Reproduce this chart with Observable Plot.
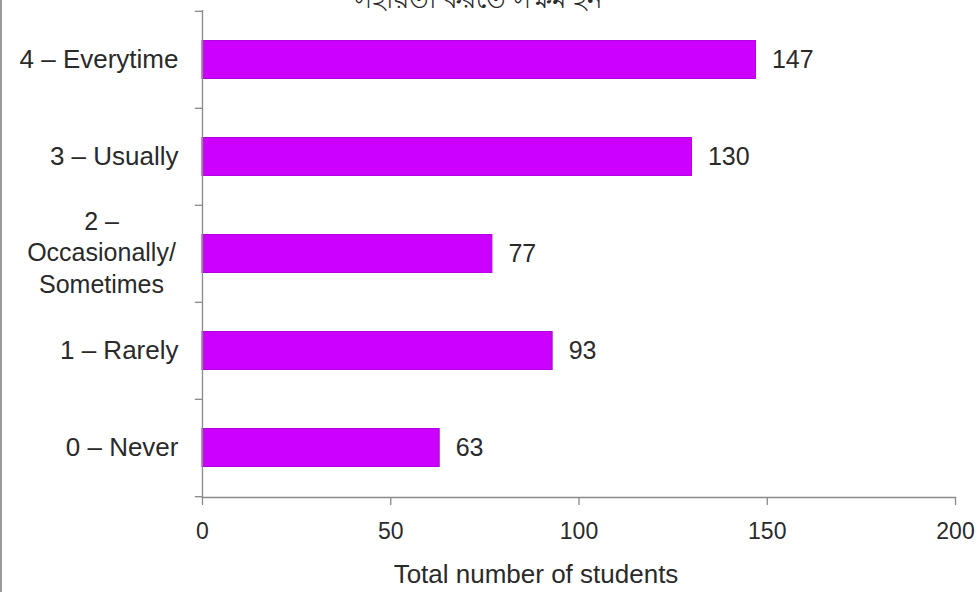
<!DOCTYPE html>
<html><head><meta charset="utf-8">
<script src="https://cdn.jsdelivr.net/npm/d3@7"></script>
<script src="https://cdn.jsdelivr.net/npm/@observablehq/plot@0.6"></script>
<style>
body{margin:0;background:#fff;}
#chart{position:relative;width:979px;height:592px;overflow:hidden;}
#edge{position:absolute;left:0;top:0;width:2px;height:592px;background:#9a9a9a;}
</style>
</head><body><div id="chart"><div id="edge"></div></div>
<script>
const categories = ["4 – Everytime", "3 – Usually", "2 –\nOccasionally/\nSometimes", "1 – Rarely", "0 – Never"];
const values = [147, 130, 77, 93, 63];
const xTicks = [0, 50, 100, 150, 200];
const title = "সহায়তা করতে সক্ষম হন";
const xLabel = "Total number of students";

const data = categories.map((c, i) => ({category: c, value: values[i]}));
const font = "'Liberation Sans', Arial, sans-serif";
const half = (497 - 10) / categories.length / 2;

const chart = Plot.plot({
  width: 979, height: 592,
  marginLeft: 202, marginRight: 24, marginTop: 10, marginBottom: 95,
  style: {fontFamily: font, background: "transparent", color: "#2a2a2a"},
  x: {domain: [0, 200], axis: null},
  y: {domain: categories, axis: null, padding: 0},
  marks: [
    Plot.barX(data, {x: "value", y: "category", fill: "#cc00ff", stroke: "#b400e0", strokeWidth: 1, insetTop: 29.5, insetBottom: 29.5}),
    Plot.ruleX([0], {stroke: "#8a8a8a", strokeWidth: 1.3}),
    Plot.frame({anchor: "bottom", stroke: "#8a8a8a", strokeWidth: 1.3}),
    Plot.ruleY(categories, {y: d => d, x1: -1.9, x2: 0, dy: -half, stroke: "#8a8a8a", strokeWidth: 1.3}),
    Plot.ruleY([categories[categories.length - 1]], {y: d => d, x1: -1.9, x2: 0, dy: half, stroke: "#8a8a8a", strokeWidth: 1.3}),
    Plot.axisX({ticks: xTicks, tickSize: 8, tickPadding: 17, fontSize: 23, stroke: "#8a8a8a", strokeWidth: 1.3, label: null, tickFormat: d => String(d), fill: "#2a2a2a"}),
    Plot.text(categories.filter(c => !c.includes("\n")), {y: d => d, x: 0, text: d => d, textAnchor: "end", dx: -24, fontSize: 26, fill: "#2a2a2a"}),
    Plot.text(categories.filter(c => c.includes("\n")), {y: d => d, x: 0, text: d => d, textAnchor: "middle", dx: -101, dy: -3, fontSize: 25, lineHeight: 1.26, fill: "#2a2a2a"}),
    Plot.text(data, {x: "value", y: "category", text: d => String(d.value), textAnchor: "start", dx: 16, fontSize: 25, fill: "#2a2a2a"}),
    Plot.text([xLabel], {frameAnchor: "bottom", dx: -43, dy: 85, fontSize: 26, fill: "#2a2a2a"}),
    Plot.text([title], {frameAnchor: "top", dx: -100, dy: -3, lineAnchor: "bottom", fontSize: 26, fill: "#2a2a2a"})
  ]
});
document.getElementById("chart").appendChild(chart);
</script>
</body></html>
